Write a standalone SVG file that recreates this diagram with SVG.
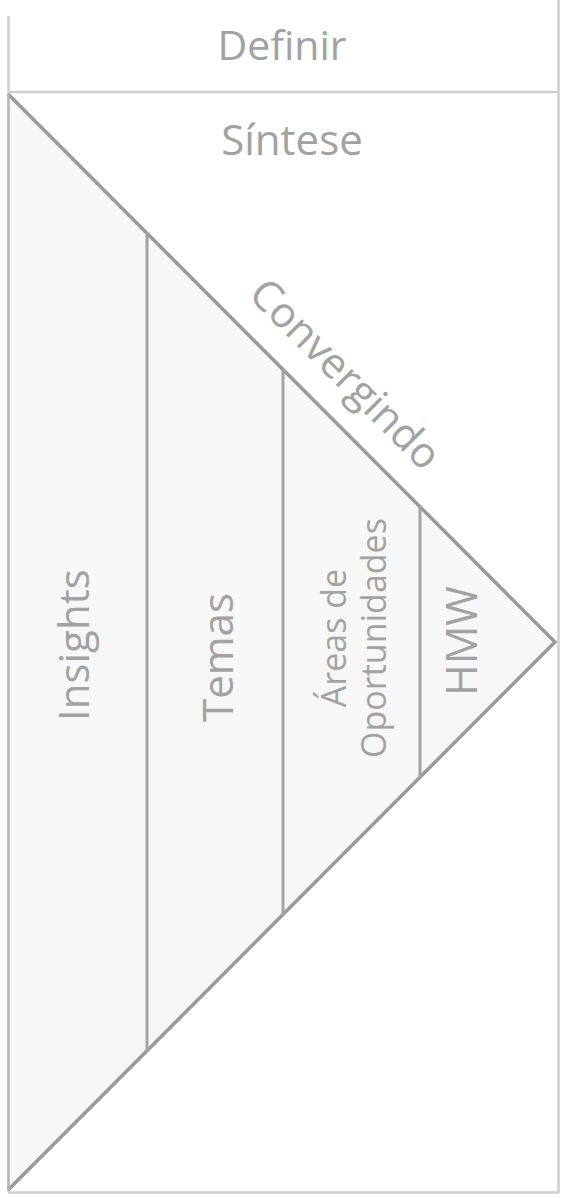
<svg xmlns="http://www.w3.org/2000/svg" width="568" height="1198" viewBox="0 0 568 1198">
<style>
.t{font-family:"Open Sans","Noto Sans","DejaVu Sans",sans-serif;fill:#a2a2a2;}
.frame{fill:none;stroke:#cfcfcf;stroke-width:2.5;}
.edge{fill:none;stroke:#9a9a9a;stroke-width:3.5;stroke-linejoin:miter;}
.div{fill:none;stroke:#a3a3a3;stroke-width:3;}
</style>
<rect x="0" y="0" width="568" height="1198" fill="#ffffff"/>
<g id="frame">
<line class="frame" x1="8.5" y1="16" x2="8.5" y2="1192"/>
<line class="frame" x1="558.5" y1="0" x2="558.5" y2="1193"/>
<line class="frame" x1="8" y1="1192.5" x2="559" y2="1192.5"/>
<line class="frame" x1="8" y1="92" x2="559" y2="92"/>
</g>
<g id="header">
<text class="t" x="282" y="60" font-size="41" text-anchor="middle">Definir</text>
</g>
<g id="sintese">
<text class="t" x="292" y="155" font-size="42" text-anchor="middle">Síntese</text>
</g>
<g id="funnel">
<polygon points="8,94 555,642 8,1190" fill="#f7f7f7"/>
<polyline class="edge" points="8,94 555,642 8,1190"/>
<line x1="8.5" y1="94" x2="8.5" y2="1190" stroke="#b5b5b5" stroke-width="2.5"/>
</g>
<g id="connectors">
<line class="div" x1="147" y1="233" x2="147" y2="1051"/>
<line class="div" x1="283" y1="369" x2="283" y2="915"/>
<line class="div" x1="420" y1="506" x2="420" y2="778"/>
</g>
<g id="convergindo">
<text class="t" x="247" y="296" font-size="42" transform="rotate(45 247 296)">Convergindo</text>
</g>
<g id="insights">
<text class="t" x="89" y="721" font-size="42" transform="rotate(-90 89 721)">Insights</text>
</g>
<g id="temas">
<text class="t" x="233" y="722" font-size="42" transform="rotate(-90 233 722)">Temas</text>
</g>
<g id="areas">
<text class="t" x="346" y="638" font-size="34" text-anchor="middle" transform="rotate(-90 346 638)">Áreas de</text>
<text class="t" x="386" y="638" font-size="34" text-anchor="middle" transform="rotate(-90 386 638)">Oportunidades</text>
</g>
<g id="hmw">
<text class="t" x="477" y="641" font-size="43" text-anchor="middle" transform="rotate(-90 477 641)">HMW</text>
</g>
</svg>
